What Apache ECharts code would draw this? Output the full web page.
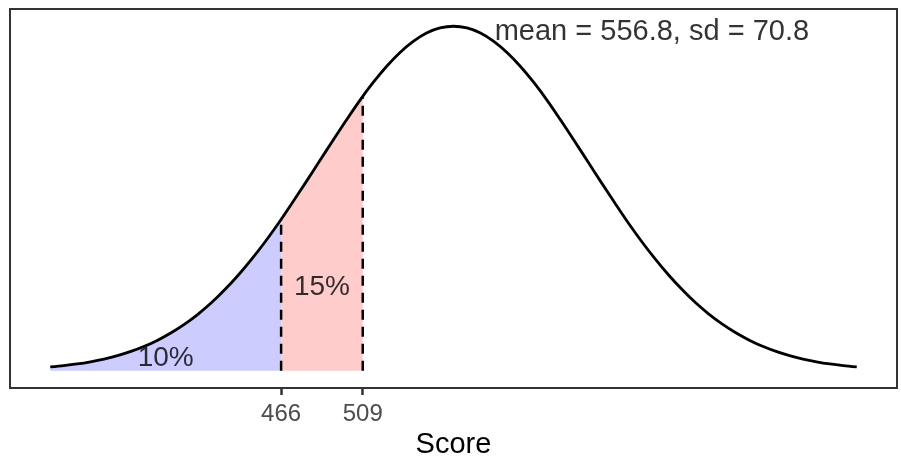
<!DOCTYPE html>
<html>
<head>
<meta charset="utf-8">
<script src="https://cdn.jsdelivr.net/npm/echarts@6/dist/echarts.min.js"></script>
<style>
  html, body { margin: 0; padding: 0; background: #fff; }
  #main { width: 901px; height: 457px; }
</style>
</head>
<body>
<div id="main"></div>
<script>
// score values along the curve (mean 556.8, sd 70.8, from -3 sd to +3 sd)
var scores = [344.4, 351.5, 358.6, 365.6, 372.7, 379.8, 386.9, 394.0, 401.0, 408.1,
              415.2, 422.3, 429.4, 436.4, 443.5, 450.6, 457.7, 464.8, 471.8, 478.9,
              486.0, 493.1, 500.2, 507.2, 514.3, 521.4, 528.5, 535.6, 542.6, 549.7,
              556.8,
              563.9, 571.0, 578.0, 585.1, 592.2, 599.3, 606.4, 613.4, 620.5, 627.6,
              634.7, 641.8, 648.8, 655.9, 663.0, 670.1, 677.2, 684.2, 691.3, 698.4,
              705.5, 712.6, 719.6, 726.7, 733.8, 740.9, 748.0, 755.0, 762.1, 769.2];
// curve height relative to the peak
var heights = [0.0111, 0.0149, 0.0198, 0.0261, 0.0340, 0.0439, 0.0561, 0.0710, 0.0889, 0.1103,
               0.1353, 0.1645, 0.1979, 0.2357, 0.2780, 0.3247, 0.3753, 0.4296, 0.4868, 0.5461,
               0.6065, 0.6670, 0.7261, 0.7827, 0.8353, 0.8825, 0.9231, 0.9560, 0.9802, 0.9950,
               1.0000,
               0.9950, 0.9802, 0.9560, 0.9231, 0.8825, 0.8353, 0.7827, 0.7261, 0.6670, 0.6065,
               0.5461, 0.4868, 0.4296, 0.3753, 0.3247, 0.2780, 0.2357, 0.1979, 0.1645, 0.1353,
               0.1103, 0.0889, 0.0710, 0.0561, 0.0439, 0.0340, 0.0261, 0.0198, 0.0149, 0.0111];
var cutoffs = [466, 509];
var cutoffHeights = [0.4394, 0.7962];
var pctLabels = ['10%', '15%'];
var pctX = [405.2, 487.5];
var pctY = [0.036, 0.242];
var statText = 'mean = 556.8, sd = 70.8';

var font = "'Liberation Sans', Arial, Helvetica, sans-serif";

var curve = scores.map(function (x, i) { return [x, heights[i]]; });

// shaded regions under the curve
var blueArea = curve.filter(function (p) { return p[0] < cutoffs[0]; });
blueArea.push([cutoffs[0], cutoffHeights[0]]);
var redArea = [[cutoffs[0], cutoffHeights[0]]];
curve.forEach(function (p) { if (p[0] > cutoffs[0] && p[0] < cutoffs[1]) redArea.push(p); });
redArea.push([cutoffs[1], cutoffHeights[1]]);

var dashSeries = cutoffs.map(function (c, i) {
    return {
        type: 'line',
        data: [[c, 0], [c, cutoffHeights[i]]],
        symbol: 'none',
        z: 4,
        lineStyle: { color: '#000', width: 2.5, type: [10, 7] }
    };
});

var labelData = pctLabels.map(function (t, i) { return [pctX[i], pctY[i], t]; });

var chart = echarts.init(document.getElementById('main'));
chart.setOption({
    animation: false,
    grid: {
        left: 10, right: 4, top: 9, bottom: 69,
        containLabel: false, outerBoundsMode: 'none',
        show: true, borderColor: '#333', borderWidth: 2, backgroundColor: '#fff'
    },
    xAxis: {
        type: 'value',
        min: 323.2, max: 790.4,
        splitLine: { show: false },
        axisLine: { show: false, onZero: false },
        axisTick: {
            show: true, length: 7, customValues: cutoffs,
            lineStyle: { color: '#333', width: 2.5 }
        },
        axisLabel: {
            customValues: cutoffs, margin: 14,
            color: '#4D4D4D', fontSize: 24, fontFamily: font
        },
        name: 'Score',
        nameLocation: 'middle',
        nameGap: 36,
        nameTextStyle: { color: '#000', fontSize: 29, fontFamily: font }
    },
    yAxis: {
        type: 'value',
        min: -0.05, max: 1.05,
        show: false,
        splitLine: { show: false }
    },
    series: [
        {
            type: 'line', data: blueArea, smooth: 0.3, symbol: 'none', z: 1,
            lineStyle: { width: 0 },
            areaStyle: { color: '#CCCCFF', opacity: 1, origin: 'auto' }
        },
        {
            type: 'line', data: redArea, smooth: 0.3, symbol: 'none', z: 1,
            lineStyle: { width: 0 },
            areaStyle: { color: '#FFCCCC', opacity: 1, origin: 'auto' }
        },
        {
            type: 'line', data: curve, smooth: 0.3, symbol: 'none', z: 5,
            lineStyle: { color: '#000', width: 2.8 }
        }
    ].concat(dashSeries).concat([
        {
            type: 'scatter', data: labelData, symbolSize: 0, z: 6,
            label: {
                show: true, position: 'inside',
                formatter: function (p) { return p.data[2]; },
                color: '#000', fontSize: 28, fontFamily: font
            }
        },
        {
            type: 'scatter', data: [[578.5, 0.983, statText]], symbolSize: 0, z: 6,
            label: {
                show: true, position: 'right', distance: 0,
                formatter: function (p) { return p.data[2]; },
                color: '#000', fontSize: 29, fontFamily: font
            }
        }
    ])
});
</script>
</body>
</html>
